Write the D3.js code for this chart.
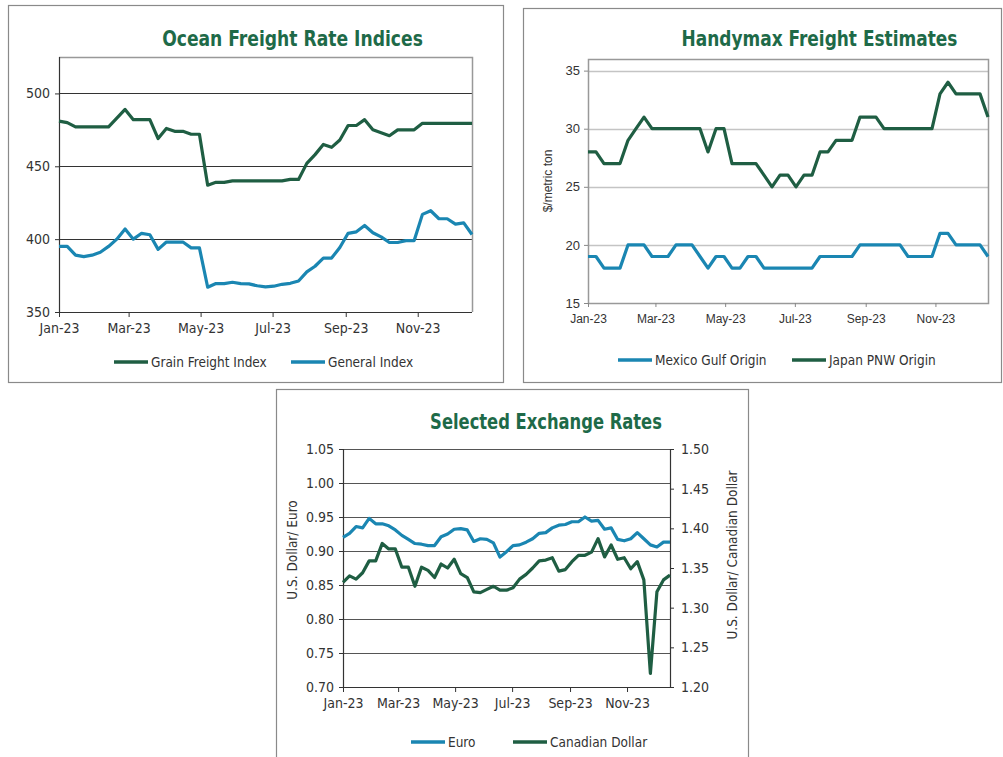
<!DOCTYPE html>
<html>
<head>
<meta charset="utf-8">
<script src="https://cdn.jsdelivr.net/npm/d3@7"></script>
<style>
  body { margin: 0; background: #fff; }
  .narrow { font-family: "Liberation Sans Narrow", "DejaVu Sans Condensed", sans-serif; }
  .arial { font-family: "Liberation Sans", Arial, sans-serif; }
</style>
</head>
<body>
<div id="chart"></div>
<script>
// weekly observations, first week of Jan-23 to mid Dec-23
var startDate = new Date(2023, 0, 1);

// Ocean Freight Rate Indices
var grainFreightIndex = [481, 480, 477, 477, 477, 477, 477, 483, 489, 482, 482, 482, 469, 476, 474, 474, 472, 472,
  437, 439, 439, 440, 440, 440, 440, 440, 440, 440, 441, 441, 452, 458, 465, 463, 468, 478, 478, 482, 475, 473,
  471, 475, 475, 475, 479.5, 479.5, 479.5, 479.5, 479.5, 479.5, 479.5];
var generalIndex = [395, 395, 389, 388, 389, 391, 395, 400, 407, 400, 404, 403, 393, 398, 398, 398, 394, 394,
  367, 369.5, 369.5, 370.4, 369.5, 369.3, 368, 367.2, 367.7, 369, 369.7, 371.3, 377.5, 381.4, 387, 387, 394.3,
  404, 405, 409.4, 404.4, 401.6, 397.7, 397.7, 399, 399, 417, 419.5, 414, 414, 410.3, 411.2, 403.2];

// Handymax Freight Estimates ($/metric ton)
var mexicoGulf = [19, 19, 18, 18, 18, 20, 20, 20, 19, 19, 19, 20, 20, 20, 19, 18, 19, 19, 18, 18, 19, 19, 18,
  18, 18, 18, 18, 18, 18, 19, 19, 19, 19, 19, 20, 20, 20, 20, 20, 20, 19, 19, 19, 19, 21, 21, 20, 20, 20, 20, 19];
var japanPNW = [28, 28, 27, 27, 27, 29, 30, 31, 30, 30, 30, 30, 30, 30, 30, 28, 30, 30, 27, 27, 27, 27, 26, 25,
  26, 26, 25, 26, 26, 28, 28, 29, 29, 29, 31, 31, 31, 30, 30, 30, 30, 30, 30, 30, 33, 34, 33, 33, 33, 33, 31];

// Selected Exchange Rates
var euro = [0.920, 0.926, 0.936, 0.934, 0.948, 0.940, 0.940, 0.937, 0.931, 0.923, 0.917, 0.911, 0.910, 0.908,
  0.908, 0.921, 0.925, 0.932, 0.933, 0.931, 0.914, 0.918, 0.917, 0.912, 0.891, 0.899, 0.908, 0.909, 0.913,
  0.918, 0.926, 0.927, 0.934, 0.938, 0.939, 0.943, 0.943, 0.950, 0.944, 0.945, 0.932, 0.934, 0.917, 0.915,
  0.918, 0.927, 0.918, 0.909, 0.906, 0.913, 0.913];
var canadianDollar = [1.332, 1.340, 1.336, 1.344, 1.359, 1.359, 1.381, 1.374, 1.374, 1.351, 1.351, 1.327,
  1.351, 1.347, 1.338, 1.355, 1.350, 1.361, 1.343, 1.338, 1.320, 1.319, 1.323, 1.327, 1.322, 1.322, 1.325,
  1.336, 1.342, 1.350, 1.359, 1.360, 1.363, 1.346, 1.348, 1.358, 1.366, 1.366, 1.370, 1.387, 1.364, 1.379,
  1.361, 1.363, 1.349, 1.358, 1.335, 1.217, 1.320, 1.335, 1.341];

var green = "#1f5e43",
    blue = "#1a86b2",
    titleColor = "#1e6a48";

var svg = d3.select("#chart").append("svg")
    .attr("width", 1003)
    .attr("height", 757);

function weekDates(values) {
  return values.map(function(v, i) { return d3.timeDay.offset(startDate, 7 * i); });
}

// panel frames
function frame(x, y, w, h) {
  svg.append("rect")
      .attr("x", x + 0.5).attr("y", y + 0.5)
      .attr("width", w).attr("height", h)
      .attr("fill", "none")
      .attr("stroke", "#8a8a8a")
      .attr("stroke-width", 1.2);
}
frame(8, 5, 495, 377);
frame(523, 8, 478, 374);
frame(276, 389, 472, 380);

// bold condensed title, squeezed horizontally to the reference width
function title(text, cx, y, len) {
  var t = svg.append("text")
      .attr("class", "narrow")
      .attr("text-anchor", "middle")
      .attr("font-size", 22)
      .attr("font-weight", "bold")
      .attr("fill", titleColor)
      .text(text);
  var w = t.node().getComputedTextLength();
  t.attr("transform", "translate(" + cx + "," + y + ") scale(" + (len / w) + ",1)");
}

function legend(items, y, fontClass, size) {
  items.forEach(function(it) {
    svg.append("line")
        .attr("x1", it.x).attr("x2", it.x + 34)
        .attr("y1", y).attr("y2", y)
        .attr("stroke", it.color)
        .attr("stroke-width", 3.5);
    svg.append("text")
        .attr("class", fontClass)
        .attr("x", it.x + 37).attr("y", y + 4.5)
        .attr("font-size", size)
        .attr("fill", "#333")
        .text(it.label);
  });
}

function drawLine(g, dates, values, x, y, color) {
  var line = d3.line()
      .x(function(d, i) { return x(dates[i]); })
      .y(function(d) { return y(d); });
  g.append("path")
      .datum(values)
      .attr("d", line)
      .attr("fill", "none")
      .attr("stroke", color)
      .attr("stroke-width", 3.2)
      .attr("stroke-linejoin", "round");
}

function styleAxis(g, color, fontClass, size) {
  g.select(".domain").remove();
  g.selectAll(".tick line").attr("stroke", color);
  g.selectAll(".tick text")
      .attr("class", fontClass)
      .attr("font-size", size)
      .attr("fill", "#333");
}

// ****************** Ocean Freight Rate Indices ***************************
(function() {
  var dates = weekDates(grainFreightIndex);
  var left = 59, right = 472, top = 57, bottom = 312;
  var x = d3.scaleTime().domain([dates[0], dates[dates.length - 1]]).range([left, right]);
  var y = d3.scaleLinear().domain([350, 525]).range([bottom, top]);
  var g = svg.append("g");

  [400, 450, 500].forEach(function(v) {
    g.append("line")
        .attr("x1", left).attr("x2", right)
        .attr("y1", Math.round(y(v)) + 0.5).attr("y2", Math.round(y(v)) + 0.5)
        .attr("stroke", "#333");
  });
  // plot border
  g.append("path")
      .attr("d", "M" + left + "," + (top + 0.5) + "H" + (right + 0.5) + "V" + bottom)
      .attr("fill", "none").attr("stroke", "#999").attr("stroke-width", 1.5);

  var yAxis = g.append("g")
      .attr("transform", "translate(" + left + ",0)")
      .call(d3.axisLeft(y).tickValues([350, 400, 450, 500]).tickSize(4).tickPadding(5));
  styleAxis(yAxis, "#333", "narrow", 14);
  var xAxis = g.append("g")
      .attr("transform", "translate(0," + bottom + ")")
      .call(d3.axisBottom(x).ticks(d3.timeMonth.every(2)).tickFormat(d3.timeFormat("%b-%y")).tickSize(5).tickPadding(6));
  styleAxis(xAxis, "#333", "narrow", 14);

  g.append("line").attr("x1", left + 0.5).attr("x2", left + 0.5).attr("y1", top).attr("y2", bottom)
      .attr("stroke", "#333").attr("stroke-width", 1.2);
  g.append("line").attr("x1", left).attr("x2", right).attr("y1", bottom + 0.5).attr("y2", bottom + 0.5)
      .attr("stroke", "#333").attr("stroke-width", 1.2);

  drawLine(g, dates, generalIndex, x, y, blue);
  drawLine(g, dates, grainFreightIndex, x, y, green);

  title("Ocean Freight Rate Indices", 292.5, 46, 261);
  legend([{x: 114, color: green, label: "Grain Freight Index"},
          {x: 291, color: blue, label: "General Index"}], 362, "narrow", 13.5);
})();

// ****************** Handymax Freight Estimates ***************************
(function() {
  var dates = weekDates(japanPNW);
  var left = 588, right = 988, top = 59, bottom = 303;
  var x = d3.scaleTime().domain([dates[0], dates[dates.length - 1]]).range([left, right]);
  var y = d3.scaleLinear().domain([15, 36]).range([bottom, top]);
  var g = svg.append("g");

  [20, 25, 30, 35].forEach(function(v) {
    g.append("line")
        .attr("x1", left).attr("x2", right)
        .attr("y1", Math.round(y(v)) + 0.5).attr("y2", Math.round(y(v)) + 0.5)
        .attr("stroke", "#c4c4c4").attr("stroke-width", 1.3);
  });
  g.append("rect")
      .attr("x", left + 0.5).attr("y", top + 0.5)
      .attr("width", right - left).attr("height", bottom - top)
      .attr("fill", "none").attr("stroke", "#999").attr("stroke-width", 1.5);

  var yAxis = g.append("g")
      .attr("transform", "translate(" + left + ",0)")
      .call(d3.axisLeft(y).tickValues([15, 20, 25, 30, 35]).tickSize(4).tickPadding(4));
  styleAxis(yAxis, "#888", "arial", 13);
  var xAxis = g.append("g")
      .attr("transform", "translate(0," + bottom + ")")
      .call(d3.axisBottom(x).ticks(d3.timeMonth.every(2)).tickFormat(d3.timeFormat("%b-%y")).tickSize(4).tickPadding(7));
  styleAxis(xAxis, "#888", "arial", 12);

  drawLine(g, dates, mexicoGulf, x, y, blue);
  drawLine(g, dates, japanPNW, x, y, green);

  svg.append("text")
      .attr("class", "arial")
      .attr("transform", "translate(552," + ((top + bottom) / 2) + ") rotate(-90)")
      .attr("text-anchor", "middle")
      .attr("font-size", 12)
      .attr("fill", "#333")
      .text("$/metric ton");

  title("Handymax Freight Estimates", 819.5, 46, 276);
  legend([{x: 618, color: blue, label: "Mexico Gulf Origin"},
          {x: 792, color: green, label: "Japan PNW Origin"}], 360, "narrow", 13.5);
})();

// ****************** Selected Exchange Rates ***************************
(function() {
  var dates = weekDates(euro);
  var left = 343, right = 670, top = 449, bottom = 687;
  var x = d3.scaleTime().domain([dates[0], dates[dates.length - 1]]).range([left, right]);
  var y = d3.scaleLinear().domain([0.70, 1.05]).range([bottom, top]);
  var y2 = d3.scaleLinear().domain([1.20, 1.50]).range([bottom, top]);
  var g = svg.append("g");

  [0.75, 0.80, 0.85, 0.90, 0.95, 1.00, 1.05].forEach(function(v) {
    g.append("line")
        .attr("x1", left).attr("x2", right)
        .attr("y1", Math.round(y(v)) + 0.5).attr("y2", Math.round(y(v)) + 0.5)
        .attr("stroke", "#555").attr("stroke-width", 1.1);
  });

  var yAxis = g.append("g")
      .attr("transform", "translate(" + left + ",0)")
      .call(d3.axisLeft(y).tickValues([0.70, 0.75, 0.80, 0.85, 0.90, 0.95, 1.00, 1.05])
        .tickFormat(d3.format(".2f")).tickSize(4).tickPadding(5));
  styleAxis(yAxis, "#333", "narrow", 14);
  var y2Axis = g.append("g")
      .attr("transform", "translate(" + right + ",0)")
      .call(d3.axisRight(y2).tickValues([1.20, 1.25, 1.30, 1.35, 1.40, 1.45, 1.50])
        .tickFormat(d3.format(".2f")).tickSize(4).tickPadding(7));
  styleAxis(y2Axis, "#333", "narrow", 14);
  var xAxis = g.append("g")
      .attr("transform", "translate(0," + bottom + ")")
      .call(d3.axisBottom(x).ticks(d3.timeMonth.every(2)).tickFormat(d3.timeFormat("%b-%y")).tickSize(5).tickPadding(6));
  styleAxis(xAxis, "#333", "narrow", 14);

  g.append("line").attr("x1", left + 0.5).attr("x2", left + 0.5).attr("y1", top).attr("y2", bottom)
      .attr("stroke", "#333").attr("stroke-width", 1.2);
  g.append("line").attr("x1", right + 0.5).attr("x2", right + 0.5).attr("y1", top).attr("y2", bottom)
      .attr("stroke", "#333").attr("stroke-width", 1.2);
  g.append("line").attr("x1", left).attr("x2", right).attr("y1", bottom + 0.5).attr("y2", bottom + 0.5)
      .attr("stroke", "#333").attr("stroke-width", 1.2);

  drawLine(g, dates, euro, x, y, blue);
  drawLine(g, dates, canadianDollar, x, y2, green);

  svg.append("text")
      .attr("class", "narrow")
      .attr("transform", "translate(297,550) rotate(-90)")
      .attr("text-anchor", "middle")
      .attr("font-size", 13.5)
      .attr("fill", "#333")
      .text("U.S. Dollar/ Euro");
  svg.append("text")
      .attr("class", "narrow")
      .attr("transform", "translate(737,555) rotate(-90)")
      .attr("text-anchor", "middle")
      .attr("font-size", 13.5)
      .attr("fill", "#333")
      .text("U.S. Dollar/ Canadian Dollar");

  title("Selected Exchange Rates", 546, 429, 232);
  legend([{x: 411, color: blue, label: "Euro"},
          {x: 513, color: green, label: "Canadian Dollar"}], 742, "narrow", 13.5);
})();
</script>
</body>
</html>
